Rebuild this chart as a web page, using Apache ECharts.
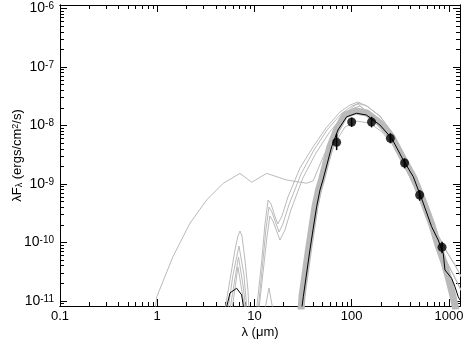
<!DOCTYPE html>
<html>
<head>
<meta charset="utf-8">
<script src="https://cdn.jsdelivr.net/npm/echarts@6/dist/echarts.min.js"></script>
<style>
  html, body { margin: 0; padding: 0; background: #fff; }
  #chart { width: 464px; height: 347px; }
</style>
</head>
<body>
<div id="chart"></div>
<script>
// axis range and ticks
var xMin = 0.1, xMax = 1300;
var yMin = 8.2e-12, yMax = 1.15e-6;
var xMajor = [0.1, 1, 10, 100, 1000];
var xLabels = ['0.1', '1', '10', '100', '1000'];
var yMajor = [1e-11, 1e-10, 1e-9, 1e-8, 1e-7, 1e-6];
var yExp = ['-11', '-10', '-9', '-8', '-7', '-6'];

// observed photometry (um, erg/cm2/s)
var obsWave = [70, 100, 160, 250, 350, 500, 850];
var obsFlux = [5.16e-9, 1.15e-8, 1.15e-8, 6.04e-9, 2.29e-9, 6.49e-10, 8.28e-11];
var obsLo = [3.8e-9, 9.5e-9, 9.3e-9, 4.97e-9, 1.85e-9, 5.19e-10, 6.54e-11];
var obsHi = [7.2e-9, 1.36e-8, 1.41e-8, 7.36e-9, 2.75e-9, 7.89e-10, 1.03e-10];

// best fit model
var fitSed = [[30.5, 7e-12], [31.8, 1.18e-11], [37.2, 7.44e-11], [40.0, 1.64e-10], [43.6, 4.09e-10],
  [47.2, 7.89e-10], [50.6, 1.17e-9], [62.2, 4.34e-9], [72.2, 8.37e-9], [88.7, 1.41e-8], [112, 1.62e-8],
  [142, 1.51e-8], [195, 1.02e-8], [258, 6.04e-9], [339, 2.57e-9], [430, 1.33e-9], [544, 4.73e-10],
  [664, 1.86e-10], [776, 1.10e-10], [874, 6.54e-11], [910, 3.39e-11], [1066, 2.44e-11],
  [1153, 1.76e-11], [1246, 1.18e-11], [1300, 1.04e-11]];
var fitArc = [[5.09, 7e-12], [5.60, 1.37e-11], [6.56, 1.65e-11], [7.38, 1.27e-11], [7.80, 7e-12]];

// other good fits (grey)
var bandSed = [[30.1, 6.5e-12], [30.8, 1.18e-11], [35.9, 7.44e-11], [41.9, 4.09e-10], [45.5, 7.89e-10],
  [48.9, 1.17e-9], [59.7, 4.34e-9], [69.7, 8.37e-9], [85.2, 1.51e-8], [110.6, 1.77e-8], [143.5, 1.64e-8],
  [195, 1.10e-8], [259, 6.36e-9], [345, 2.57e-9], [437, 1.27e-9], [553, 4.73e-10], [669, 1.99e-10],
  [770, 9.07e-11], [888, 4.64e-11], [1000, 2.29e-11], [1099, 1.22e-11], [1180, 7.0e-12]];
var lowSed = [[31.5, 7e-12], [37.2, 6.11e-11], [45.0, 4.38e-10], [54.4, 1.73e-9], [67.3, 5.02e-9],
  [85.2, 9.43e-9], [113, 1.19e-8], [154, 1.10e-8], [205, 7.74e-9], [272, 4.46e-9], [361, 1.95e-9],
  [480, 7.30e-10], [638, 2.24e-10], [808, 7.44e-11], [977, 2.78e-11], [1153, 1.04e-11], [1209, 7e-12]];
var tailA = [[143.5, 2.15e-8], [195, 1.45e-8], [259, 7.74e-9], [345, 3.13e-9], [458, 1.17e-9],
  [608, 3.89e-10], [770, 1.34e-10], [953, 6.88e-11], [1153, 4.12e-11], [1361, 2.47e-11]];
var tailB = [[136.8, 1.84e-8], [186.2, 1.19e-8], [247.4, 6.36e-9], [328.6, 2.57e-9], [436.5, 9.24e-10],
  [580, 3.07e-10], [752.5, 1.02e-10], [953, 4.64e-11], [1180, 2.29e-11], [1361, 1.43e-11]];
var warmSed = [[0.95, 7e-12], [0.99, 1.18e-11], [1.45, 5.71e-11], [2.17, 2.13e-10], [3.22, 5.33e-10],
  [4.78, 1.03e-9], [7.10, 1.52e-9], [9.36, 1.07e-9], [13.35, 1.52e-9], [21.4, 1.17e-9], [34.4, 1.03e-9],
  [40.2, 1.14e-9], [51.0, 2.93e-9], [64.1, 6.43e-9], [81.3, 1.41e-8], [103, 2.10e-8], [116, 2.4e-8]];
var silA = [[10.5, 7e-12], [11.9, 5.02e-11], [12.8, 1.99e-10], [13.8, 5.33e-10], [14.8, 4.55e-10],
  [16.3, 2.73e-10], [17.4, 2.07e-10], [19.2, 2.84e-10], [22.1, 6.0e-10], [29.4, 1.88e-9], [40.0, 4.29e-9],
  [54.4, 9.06e-9], [75.7, 1.70e-8], [96, 2.24e-8], [116, 2.52e-8]];
var silB = [[10.9, 7e-12], [12.2, 4.64e-11], [13.1, 1.64e-10], [14.1, 4.04e-10], [15.1, 3.32e-10],
  [17.9, 1.51e-10], [19.6, 2.07e-10], [22.6, 4.38e-10], [30.1, 1.48e-9], [40.9, 3.81e-9], [55.7, 8.37e-9],
  [77.5, 1.57e-8], [100.6, 2.15e-8], [116, 2.33e-8]];
var silC = [[11.1, 7e-12], [12.5, 4.12e-11], [13.4, 1.19e-10], [14.4, 2.84e-10], [15.5, 2.33e-10],
  [18.3, 1.10e-10], [20.6, 1.64e-10], [23.7, 3.60e-10], [31.5, 1.27e-9], [42.9, 3.39e-9], [58.3, 7.45e-9],
  [81.3, 1.45e-8], [105.5, 1.99e-8], [121.6, 2.15e-8]];
var hump1 = [[4.97, 7e-12], [5.60, 2.29e-11], [6.30, 7.44e-11], [6.77, 1.29e-10], [7.10, 1.57e-10],
  [7.44, 1.29e-10], [7.99, 5.02e-11], [8.57, 1.54e-11], [8.78, 7e-12]];
var hump2 = [[5.34, 7e-12], [6.01, 2.78e-11], [6.93, 8.71e-11], [7.80, 2.78e-11], [8.37, 7e-12]];
var hump3 = [[5.60, 7e-12], [6.15, 1.88e-11], [6.85, 5.65e-11], [7.62, 1.88e-11], [8.18, 7e-12]];
var hump4 = [[5.87, 7e-12], [6.77, 3.81e-11], [7.99, 7e-12]];
var hump5 = [[12.8, 7e-12], [14.1, 1.67e-11], [15.5, 7e-12]];

function minors(decades, lo, hi) {
  var out = [];
  decades.forEach(function (d) {
    for (var k = 2; k <= 9; k++) {
      var v = d * k;
      if (v > lo && v < hi) out.push(v);
    }
  });
  return out;
}
var xMinor = minors([0.1, 1, 10, 100, 1000], xMin, xMax);
var yMinor = minors([1e-12, 1e-11, 1e-10, 1e-9, 1e-8, 1e-7, 1e-6], yMin, yMax);

// index of the major tick that v falls on, or -1
function near(list, v) {
  for (var i = 0; i < list.length; i++) {
    if (Math.abs(Math.log10(list[i] / v)) < 0.01) return i;
  }
  return -1;
}

var FONT = 'Liberation Sans';
var GRAY = '#bababa';

// all grids sit on the same box, fixed (no auto fitting of labels)
function box() {
  return { left: 60, right: 4, top: 5, bottom: 41, containLabel: false, outerBoundsMode: 'none' };
}

// one x and one y axis per grid
function logAxis(grid, pos, lo, hi, ticks, len) {
  var tick = { show: true, inside: true, length: len, lineStyle: { color: '#000', width: 1 } };
  if (ticks) tick.customValues = ticks;
  return {
    gridIndex: grid, type: 'log', position: pos, min: lo, max: hi,
    axisLine: { show: true, lineStyle: { color: '#000', width: 1 } },
    axisTick: tick,
    axisLabel: { show: false },
    splitLine: { show: false }
  };
}

var xBottom = logAxis(0, 'bottom', xMin, xMax, null, 7);
xBottom.axisLabel = {
  show: true, margin: 4, color: '#000', fontFamily: FONT, fontSize: 13,
  formatter: function (v) { var i = near(xMajor, v); return i < 0 ? '' : xLabels[i]; }
};
xBottom.name = 'λ (μm)';
xBottom.nameLocation = 'middle';
xBottom.nameGap = 20;
xBottom.nameMoveOverlap = false;
xBottom.nameTextStyle = { color: '#000', fontFamily: FONT, fontSize: 13 };

var yLeft = logAxis(0, 'left', yMin, yMax, null, 7);
yLeft.axisLabel = {
  show: true, margin: 6, color: '#000', fontFamily: FONT,
  formatter: function (v) { var i = near(yMajor, v); return i < 0 ? '' : '{b|10}{s|' + yExp[i] + '}'; },
  rich: {
    b: { fontSize: 14, lineHeight: 14, fontFamily: FONT, color: '#000', verticalAlign: 'bottom', padding: [4, 0, 0, 0] },
    s: { fontSize: 10, lineHeight: 10, fontFamily: FONT, color: '#000', verticalAlign: 'top' }
  }
};
yLeft.name = '{n|λF}{sub|λ}{n| (ergs/cm}{sup|2}{n|/s)}';
yLeft.nameLocation = 'middle';
yLeft.nameGap = 36;
yLeft.nameMoveOverlap = false;
yLeft.nameTextStyle = {
  color: '#000', fontFamily: FONT,
  rich: {
    n: { fontSize: 13, lineHeight: 13, fontFamily: FONT, color: '#000', verticalAlign: 'middle', padding: [3, 0, 3, 0] },
    sub: { fontSize: 9, lineHeight: 9, fontFamily: FONT, color: '#000', verticalAlign: 'bottom' },
    sup: { fontSize: 9, lineHeight: 9, fontFamily: FONT, color: '#000', verticalAlign: 'top' }
  }
};

function modelLine(data, color, width, z) {
  return {
    type: 'line', data: data, symbol: 'none', silent: true, clip: true, z: z,
    lineStyle: { color: color, width: width, join: 'round' }
  };
}

var series = [
  modelLine(bandSed, GRAY, 7, 1),
  modelLine(lowSed, GRAY, 1, 1),
  modelLine(warmSed.concat(tailA), GRAY, 1, 1),
  modelLine(silA.concat(tailA), GRAY, 1, 1),
  modelLine(silB.concat(tailB), GRAY, 1, 1),
  modelLine(silC.concat(tailB), GRAY, 1, 1),
  modelLine(hump1, GRAY, 1, 1),
  modelLine(hump2, GRAY, 1, 1),
  modelLine(hump3, GRAY, 1, 1),
  modelLine(hump4, GRAY, 1, 1),
  modelLine(hump5, GRAY, 1, 1),
  modelLine(fitSed, '#000', 1, 3),
  modelLine(fitArc, '#000', 1, 3),
  {
    type: 'custom', silent: true, z: 4,
    data: obsWave.map(function (w, i) { return [w, obsLo[i], obsHi[i]]; }),
    encode: { x: 0, y: [1, 2] },
    renderItem: function (params, api) {
      var a = api.coord([api.value(0), api.value(1)]);
      var b = api.coord([api.value(0), api.value(2)]);
      return {
        type: 'line',
        shape: { x1: a[0], y1: a[1], x2: b[0], y2: b[1] },
        style: { stroke: '#000', lineWidth: 1.5 }
      };
    }
  },
  {
    type: 'scatter', silent: true, z: 5, symbol: 'circle', symbolSize: 9,
    itemStyle: { color: '#000' },
    data: obsWave.map(function (w, i) { return [w, obsFlux[i]]; })
  }
];

var chart = echarts.init(document.getElementById('chart'), null, { renderer: 'canvas' });
chart.setOption({
  animation: false,
  backgroundColor: '#fff',
  grid: [box(), box(), box(), box()],
  xAxis: [
    xBottom,
    logAxis(1, 'top', xMin, xMax, null, 7),
    logAxis(2, 'bottom', xMin, xMax, xMinor, 4),
    logAxis(3, 'top', xMin, xMax, xMinor, 4)
  ],
  yAxis: [
    yLeft,
    logAxis(1, 'right', yMin, yMax, null, 7),
    logAxis(2, 'left', yMin, yMax, yMinor, 4),
    logAxis(3, 'right', yMin, yMax, yMinor, 4)
  ],
  series: series
});
</script>
</body>
</html>
